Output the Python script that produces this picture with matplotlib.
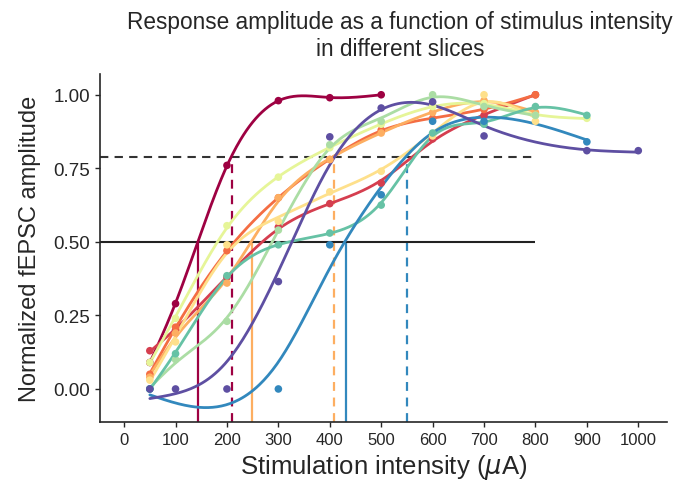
import numpy as np
import matplotlib
matplotlib.use("Agg")
import matplotlib.pyplot as plt
import seaborn as sns

sns.set_style("ticks")
plt.rcParams['font.family'] = ['Liberation Sans', 'DejaVu Sans']

# one entry per slice: stimulation intensities (uA) and normalised amplitudes
slice_x = [
    [50, 100, 200, 300, 400, 500],
    [50, 100, 200, 300, 400, 500, 600, 700, 800],
    [50, 100, 200, 300, 400, 500, 600, 700, 800],
    [50, 100, 200, 300, 400, 500, 600, 700, 800],
    [50, 100, 200, 300, 400, 500, 600, 700, 800],
    [50, 100, 200, 300, 400, 500, 600, 700, 800, 900],
    [50, 100, 200, 300, 400, 500, 600, 700, 800],
    [50, 100, 200, 300, 400, 500, 600, 700, 800, 900],
    [50, 300, 400, 500, 600, 700, 900],
    [50, 100, 200, 300, 400, 500, 600, 700, 900, 1000],
]
slice_y = [
    [0.09, 0.29, 0.76, 0.98, 0.99, 1.00],
    [0.13, 0.20, 0.38, 0.55, 0.63, 0.70, 0.85, 0.93, 1.00],
    [0.05, 0.21, 0.47, 0.65, 0.78, 0.88, 0.92, 0.95, 1.00],
    [0.04, 0.19, 0.36, 0.65, 0.78, 0.87, 0.94, 0.98, 0.94],
    [0.03, 0.16, 0.49, 0.57, 0.67, 0.74, 0.86, 1.00, 0.91],
    [0.09, 0.24, 0.555, 0.72, 0.82, 0.90, 0.96, 0.97, 0.93, 0.92],
    [0.00, 0.10, 0.23, 0.54, 0.83, 0.91, 1.00, 0.96, 0.93],
    [0.00, 0.12, 0.385, 0.49, 0.53, 0.625, 0.87, 0.90, 0.96, 0.93],
    [0.00, 0.00, 0.49, 0.66, 0.91, 0.91, 0.84],
    [0.00, 0.00, 0.00, 0.365, 0.857, 0.955, 0.976, 0.86, 0.81, 0.81],
]
smoothing = [0.002, 0.03, 0.02, 0.02, 0.05, 0.02, 0.02, 0.01, 0.2, 0.25]
highlight = [0, 3, 8]  # slices whose 50% / 79% crossings are marked
half_level = 0.5
high_level = 0.79
line_end = 800

colors = ['#9e0142', '#d53e4f', '#f46d43', '#fdae61', '#fee08b',
          '#e6f598', '#abdda4', '#66c2a5', '#3288bd', '#5e4fa2']


def smooth_spline(x, y, lam, xe):
    # natural cubic smoothing spline (Green & Silverman), x in hundreds of uA
    x = np.asarray(x, float) / 100
    y = np.asarray(y, float)
    xe = np.asarray(xe, float) / 100
    n = len(x)
    h = np.diff(x)
    Q = np.zeros((n, n - 2))
    R = np.zeros((n - 2, n - 2))
    for j in range(1, n - 1):
        k = j - 1
        Q[j - 1, k] = 1 / h[j - 1]
        Q[j, k] = -1 / h[j - 1] - 1 / h[j]
        Q[j + 1, k] = 1 / h[j]
        R[k, k] = (h[j - 1] + h[j]) / 3
        if k + 1 < n - 2:
            R[k, k + 1] = R[k + 1, k] = h[j] / 6
    K = Q @ np.linalg.solve(R, Q.T)
    g = np.linalg.solve(np.eye(n) + lam * K, y)
    gam = np.zeros(n)
    gam[1:-1] = np.linalg.solve(R, Q.T @ g)
    idx = np.clip(np.searchsorted(x, xe) - 1, 0, n - 2)
    a = xe - x[idx]
    b = x[idx + 1] - xe
    hi = h[idx]
    return ((a * g[idx + 1] + b * g[idx]) / hi
            - a * b / 6 * ((1 + a / hi) * gam[idx + 1] + (1 + b / hi) * gam[idx]))


fig, ax = plt.subplots(figsize=(6.8, 4.85), dpi=100)
fig.subplots_adjust(left=0.147, right=0.981, bottom=0.128, top=0.845)

ylo, yhi = -0.112, 1.07
xlo, xhi = -47, 1056

for i, (xs, ys) in enumerate(zip(slice_x, slice_y)):
    xf = np.linspace(min(xs), max(xs), 300)
    yf = smooth_spline(xs, ys, smoothing[i], xf)
    ax.plot(xf, yf, color=colors[i], lw=2, zorder=3)
    ax.scatter(xs, ys, color=colors[i], s=30, zorder=4, edgecolor='none')
    if i in highlight:
        x_half = xf[np.argmax(yf >= half_level)]
        x_high = xf[np.argmax(yf >= high_level)]
        ax.vlines(x_half, ylo, half_level, color=colors[i], lw=1.6, zorder=2)
        ax.vlines(x_high, ylo, high_level, color=colors[i], lw=1.6,
                  linestyles=(0, (4, 3)), zorder=2)

ax.hlines(half_level, xlo, line_end, color='#222222', lw=1.5, zorder=2)
ax.hlines(high_level, xlo, line_end, color='#333333', lw=1.5,
          linestyles=(0, (4, 3)), zorder=2)

ax.set_xlim(xlo, xhi)
ax.set_ylim(ylo, yhi)
ax.set_xticks(range(0, 1001, 100))
ax.set_yticks([0, 0.25, 0.5, 0.75, 1.0])
ax.set_yticklabels(['0.00', '0.25', '0.50', '0.75', '1.00'])
ax.tick_params(labelsize=12, length=3.5, width=1, colors='#262626')
ax.tick_params(axis='y', labelsize=13.5)
for s in ['left', 'bottom']:
    ax.spines[s].set_linewidth(1.2)
    ax.spines[s].set_color('#262626')
sns.despine(ax=ax)

ax.set_xlabel(r'Stimulation intensity ($\mu$A)', fontsize=18.5, color='#262626')
ax.set_ylabel('Normalized fEPSC amplitude', fontsize=17, color='#262626',
              labelpad=9)
ax.set_title('Response amplitude as a function of stimulus intensity\nin different slices',
             fontsize=16.3, color='#262626', pad=14, x=0.529)

fig.savefig('out.png', dpi=100)
